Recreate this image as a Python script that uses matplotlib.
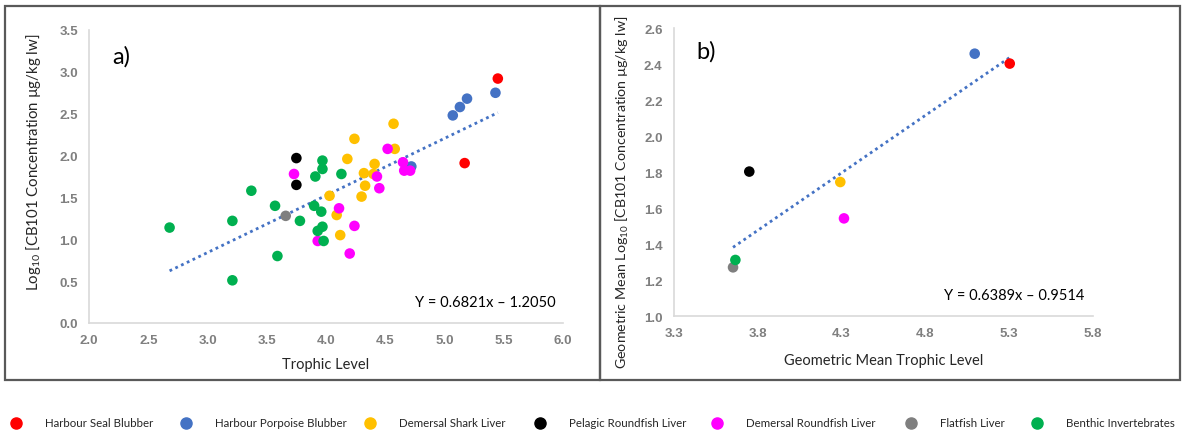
import numpy as np
import matplotlib
matplotlib.use('Agg')
import matplotlib.pyplot as plt
from matplotlib.patches import Rectangle
from matplotlib.lines import Line2D
from matplotlib.ticker import FormatStrFormatter

plt.rcParams['font.family'] = ['Lato', 'DejaVu Sans']
plt.rcParams['mathtext.fontset'] = 'custom'
plt.rcParams['mathtext.rm'] = 'Lato'
plt.rcParams['mathtext.default'] = 'regular'

# Groups and colours
groups = ['Harbour Seal Blubber', 'Harbour Porpoise Blubber', 'Demersal Shark Liver',
          'Pelagic Roundfish Liver', 'Demersal Roundfish Liver', 'Flatfish Liver',
          'Benthic Invertebrates']
colors = ['#ff0000', '#4472c4', '#ffc000', '#000000', '#ff00ff', '#7f7f7f', '#00b050']

# Panel a: individual samples (trophic level, log10 conc)
seal_tl = [5.45, 5.17]
seal_c = [2.92, 1.91]
porp_tl = [5.43, 5.19, 5.13, 5.07, 4.72]
porp_c = [2.75, 2.68, 2.58, 2.48, 1.87]
shark_tl = [4.57, 4.24, 4.58, 4.18, 4.41, 4.32, 4.40, 4.33, 4.30, 4.03, 4.09, 4.12]
shark_c = [2.38, 2.20, 2.08, 1.96, 1.90, 1.79, 1.78, 1.64, 1.51, 1.52, 1.29, 1.05]
pelag_tl = [3.75, 3.75]
pelag_c = [1.97, 1.65]
dem_tl = [3.73, 4.52, 4.65, 4.66, 4.71, 4.43, 4.45, 4.11, 4.24, 3.93, 4.20]
dem_c = [1.78, 2.08, 1.92, 1.82, 1.82, 1.75, 1.61, 1.37, 1.16, 0.98, 0.83]
flat_tl = [3.66]
flat_c = [1.28]
benth_tl = [2.68, 3.21, 3.21, 3.37, 3.57, 3.59, 3.78, 3.97, 3.97, 3.91, 4.13,
            3.90, 3.96, 3.97, 3.93, 3.98]
benth_c = [1.14, 1.22, 0.51, 1.58, 1.40, 0.80, 1.22, 1.94, 1.84, 1.75, 1.78,
           1.40, 1.33, 1.15, 1.10, 0.98]

# Panel b: geometric means
gm_tl = [5.305, 5.096, 4.294, 3.751, 4.316, 3.654, 3.668]
gm_c = [2.404, 2.459, 1.746, 1.804, 1.544, 1.272, 1.313]

# Regression lines
slope_a, icpt_a = 0.6821, -1.2050
slope_b, icpt_b = 0.6389, -0.9514

W, H = 1182, 435
fig = plt.figure(figsize=(W / 100, H / 100), dpi=100)

# panel borders
fig.patches.append(Rectangle((5/W, 1-381/H), 595/W, 374/H, transform=fig.transFigure,
                             fill=False, edgecolor='#595959', lw=1.6))
fig.patches.append(Rectangle((600/W, 1-381/H), 580/W, 374/H, transform=fig.transFigure,
                             fill=False, edgecolor='#595959', lw=1.6))

ax1 = fig.add_axes([89/W, 1-324/H, 474/W, 293/H])
ax2 = fig.add_axes([673.7/W, 1-317.3/H, 419/W, 288/H])

data_a = [(seal_tl, seal_c), (porp_tl, porp_c), (shark_tl, shark_c), (pelag_tl, pelag_c),
          (dem_tl, dem_c), (flat_tl, flat_c), (benth_tl, benth_c)]
for (tl, c), col in zip(data_a, colors):
    ax1.scatter(tl, c, s=58, color=col, edgecolors='none', zorder=3)

all_tl = np.concatenate([np.array(d[0]) for d in data_a])
xa = np.array([all_tl.min(), all_tl.max()])
ax1.plot(xa, slope_a * xa + icpt_a, ls=(0, (1, 1.3)), color='#4472c4', lw=2, zorder=2)

for x, y, col in zip(gm_tl, gm_c, colors):
    ax2.scatter(x, y, s=58, color=col, edgecolors='none', zorder=3)
xb = np.array([min(gm_tl), max(gm_tl)])
ax2.plot(xb, slope_b * xb + icpt_b, ls=(0, (1, 1.3)), color='#4472c4', lw=2, zorder=2)

ax1.set_xlim(2.0, 6.0)
ax1.set_ylim(0.0, 3.5)
ax1.set_xticks(np.arange(2.0, 6.01, 0.5))
ax1.set_yticks(np.arange(0.0, 3.51, 0.5))

ax2.set_xlim(3.3, 5.8)
ax2.set_ylim(1.0, 2.6)
ax2.set_xticks(np.arange(3.3, 5.81, 0.5))
ax2.set_yticks(np.arange(1.0, 2.61, 0.2))

for ax in (ax1, ax2):
    for s in ('top', 'right'):
        ax.spines[s].set_visible(False)
    for s in ('left', 'bottom'):
        ax.spines[s].set_color('#d9d9d9')
        ax.spines[s].set_linewidth(1.2)
    ax.xaxis.set_major_formatter(FormatStrFormatter('%.1f'))
    ax.yaxis.set_major_formatter(FormatStrFormatter('%.1f'))
    ax.tick_params(length=0, pad=8, colors='#7f7f7f', labelsize=9.5)
    for lab in ax.get_xticklabels() + ax.get_yticklabels():
        lab.set_fontfamily('Liberation Sans')
        lab.set_fontweight('bold')

ax1.set_xlabel('Trophic Level', fontsize=10.5, color='#262626', labelpad=8)
ax1.set_ylabel('Log$_{10}$ [CB101 Concentration µg/kg lw]', fontsize=10.8, color='#262626')
ax1.yaxis.set_label_coords(-0.098, 1 - (162 - 31) / 293)
ax2.set_xlabel('Geometric Mean Trophic Level', fontsize=10.5, color='#262626', labelpad=10)
ax2.set_ylabel('Geometric Mean Log$_{10}$ [CB101 Concentration µg/kg lw]', fontsize=10.3,
               color='#262626')
ax2.yaxis.set_label_coords(-0.102, 1 - (192 - 29.3) / 288)

ax1.text(0.05, 0.95, 'a)', transform=ax1.transAxes, fontsize=17, va='top', ha='left')
ax2.text(0.055, 0.96, 'b)', transform=ax2.transAxes, fontsize=17, va='top', ha='left')

ax1.text(0.985, 0.07, 'Y = 0.6821x – 1.2050', transform=ax1.transAxes, fontsize=10.5,
         ha='right', va='center')
ax2.text(0.98, 0.075, 'Y = 0.6389x – 0.9514', transform=ax2.transAxes, fontsize=10.5,
         ha='right', va='center')

# legend row below both panels
leg_x = [16, 186, 370, 540, 717, 911, 1037]
for px, col, name in zip(leg_x, colors, groups):
    fig.add_artist(Line2D([px / W], [1 - 424 / H], marker='o', ls='none', color=col,
                          markersize=8, transform=fig.transFigure))
    fig.text((px + 29) / W, 1 - 424 / H, name, fontsize=8.3, va='center', ha='left',
             color='#262626')

fig.savefig('out.png', dpi=100)
